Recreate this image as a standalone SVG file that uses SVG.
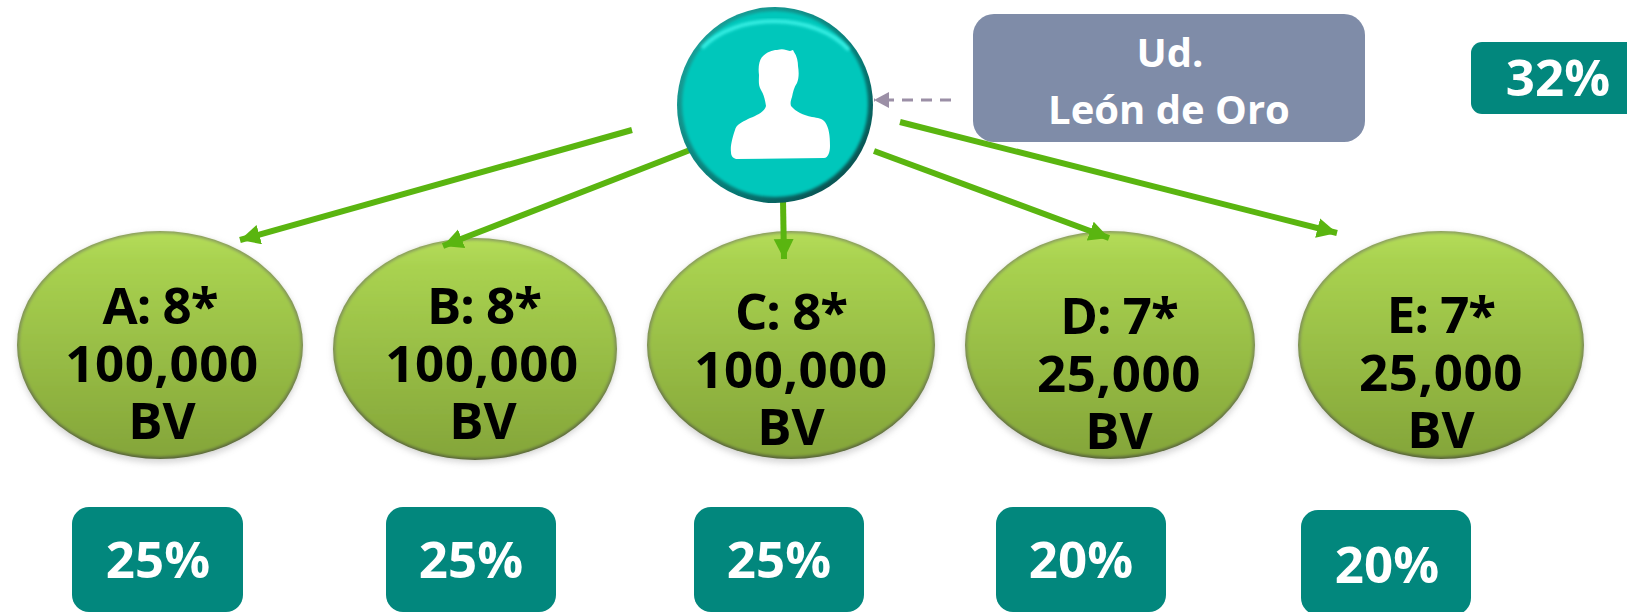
<svg xmlns="http://www.w3.org/2000/svg" width="1627" height="612" viewBox="0 0 1627 612">
<style>
text{font-family:"Open Sans","Noto Sans","Liberation Sans",sans-serif;font-weight:700;text-anchor:middle}
.t{font-size:51px;fill:#000}
.h{letter-spacing:-1px}
.n{letter-spacing:.6px}
.p{font-size:51px;fill:#fff}
.g{font-size:40px;fill:#fff}
.box{fill:#02877d}
.shadow{fill:#9a9a9a;opacity:.4;filter:url(#blur3)}
.rim{fill:url(#rimG)}
.body{fill:url(#green);filter:url(#blur2)}
.con{stroke:#5ab510;stroke-width:6;fill:none;marker-end:url(#ah)}
.dash{stroke:#9b8fa6;stroke-width:3;stroke-dasharray:11 8;fill:none;marker-end:url(#ad)}
</style>
<defs>
<linearGradient id="green" x1="0" y1="0" x2="0" y2="1"><stop offset="0" stop-color="#b4dc58"/><stop offset=".12" stop-color="#a9d250"/><stop offset="1" stop-color="#84a539"/></linearGradient>
<linearGradient id="rimG" x1="0" y1="0" x2="0" y2="1"><stop offset="0" stop-color="#8a9c60"/><stop offset=".5" stop-color="#7c8c56"/><stop offset="1" stop-color="#55603a"/></linearGradient>
<linearGradient id="rimT" x1="0" y1="0" x2="1" y2="1"><stop offset="0" stop-color="#1fa8a0"/><stop offset=".6" stop-color="#067a75"/><stop offset="1" stop-color="#0b3f40"/></linearGradient>
<filter id="blur2" x="-10%" y="-10%" width="120%" height="120%"><feGaussianBlur stdDeviation="1.6"/></filter>
<filter id="blur3" x="-10%" y="-10%" width="120%" height="120%"><feGaussianBlur stdDeviation="3"/></filter>
<marker id="ah" markerUnits="userSpaceOnUse" markerWidth="24" markerHeight="24" refX="20" refY="10" orient="auto"><path d="M0 0L20 10L0 20z" fill="#5ab510"/></marker>
<marker id="ad" markerUnits="userSpaceOnUse" markerWidth="16" markerHeight="18" refX="15" refY="8" orient="auto"><path d="M0 0L15 8L0 16z" fill="#9b8fa6"/></marker>
</defs>

<g id="node-a">
<ellipse class="shadow" cx="160" cy="348" rx="143" ry="115"/>
<ellipse class="rim" cx="160" cy="345" rx="143" ry="114"/>
<ellipse class="body" cx="160" cy="345" rx="141" ry="112"/>
<text class="t h" x="160" y="324">A: 8*</text><text class="t n" x="162" y="382">100,000</text><text class="t" x="162" y="439">BV</text>
</g>
<g id="node-b">
<ellipse class="shadow" cx="475" cy="351" rx="142" ry="112"/>
<ellipse class="rim" cx="475" cy="349" rx="142" ry="111"/>
<ellipse class="body" cx="475" cy="349" rx="140" ry="109"/>
<text class="t h" x="484" y="324">B: 8*</text><text class="t n" x="482" y="382">100,000</text><text class="t" x="483" y="439">BV</text>
</g>
<g id="node-c">
<ellipse class="shadow" cx="791" cy="348" rx="144" ry="115"/>
<ellipse class="rim" cx="791" cy="345" rx="144" ry="114"/>
<ellipse class="body" cx="791" cy="345" rx="142" ry="112"/>
<text class="t h" x="791" y="330">C: 8*</text><text class="t n" x="791" y="388">100,000</text><text class="t" x="791" y="445">BV</text>
</g>
<g id="node-d">
<ellipse class="shadow" cx="1110" cy="348" rx="145" ry="115"/>
<ellipse class="rim" cx="1110" cy="345" rx="145" ry="114"/>
<ellipse class="body" cx="1110" cy="345" rx="143" ry="112"/>
<text class="t h" x="1119" y="334">D: 7*</text><text class="t n" x="1119" y="392">25,000</text><text class="t" x="1119" y="449">BV</text>
</g>
<g id="node-e">
<ellipse class="shadow" cx="1441" cy="348" rx="143" ry="115"/>
<ellipse class="rim" cx="1441" cy="345" rx="143" ry="114"/>
<ellipse class="body" cx="1441" cy="345" rx="141" ry="112"/>
<text class="t h" x="1441" y="333">E: 7*</text><text class="t n" x="1441" y="391">25,000</text><text class="t" x="1441" y="448">BV</text>
</g>

<g id="connectors">
<path class="con" d="M632 130L240 240"/>
<path class="con" d="M690 150L443 246"/>
<path class="con" d="M783 200L784 259"/>
<path class="con" d="M874 151L1109 238"/>
<path class="con" d="M900 122L1337 233"/>
<path class="dash" d="M951 100L874 100"/>
</g>

<g id="node-user">
<circle cx="775" cy="105" r="98" fill="url(#rimT)"/>
<circle cx="775" cy="104" r="93" fill="#03c7bb" filter="url(#blur2)"/>
<path d="M702 48C735 12 815 12 849 50" fill="none" stroke="#3ff5ea" stroke-width="4" opacity=".85" filter="url(#blur2)"/>
<path d="M731 152C730 146 733 136 735 130C736 125 742 122 748 119C755 116 764 113 766 106C765 100 764 95 761 90C758 85 759 80 759 75C758 68 759 61 762 57C767 52 772 50 777 50C783 48 786 50 790 51L793 50L794 52C797 56 798 62 798 66C799 72 799 78 797 83C794 87 793 92 792 97C791 100 790 103 791 106C796 112 803 115 812 117C818 118 822 118 825 122C829 128 830 135 830 146C830 152 828 158 824 158L736 159C733 158 731 156 731 152z" fill="#fff"/>
</g>

<g id="node-leon">
<rect x="973" y="14" width="392" height="128" rx="21" fill="#7f8ca8"/>
<text class="g" x="1170" y="67">Ud.</text>
<text class="g" x="1169" y="124">León de Oro</text>
</g>

<g id="node-32">
<rect class="box" x="1471" y="42" width="180" height="72" rx="11"/>
<text class="p" x="1558" y="96">32%</text>
</g>

<g id="pct-a"><rect class="box" x="72" y="507" width="171" height="105" rx="17"/><text class="p" x="158" y="578">25%</text></g>
<g id="pct-b"><rect class="box" x="386" y="507" width="170" height="105" rx="17"/><text class="p" x="471" y="578">25%</text></g>
<g id="pct-c"><rect class="box" x="694" y="507" width="170" height="105" rx="17"/><text class="p" x="779" y="578">25%</text></g>
<g id="pct-d"><rect class="box" x="996" y="507" width="170" height="105" rx="17"/><text class="p" x="1081" y="578">20%</text></g>
<g id="pct-e"><rect class="box" x="1301" y="510" width="170" height="105" rx="17"/><text class="p" x="1387" y="583">20%</text></g>
</svg>
